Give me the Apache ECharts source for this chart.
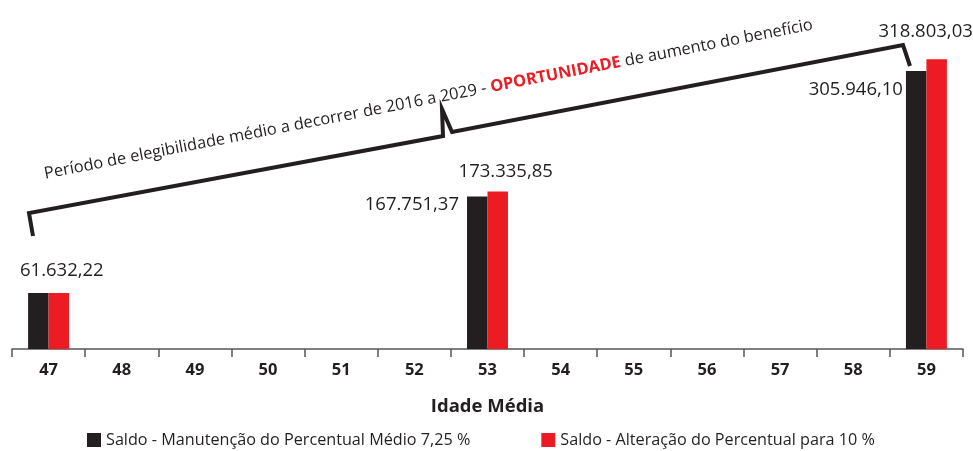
<!DOCTYPE html>
<html><head><meta charset="utf-8">
<script src="https://cdn.jsdelivr.net/npm/echarts@6/dist/echarts.min.js"></script>
<style>html,body{margin:0;padding:0;background:#fff}#c{width:973px;height:451px}</style>
</head><body><div id="c"></div>
<script>
const categories = ['47','48','49','50','51','52','53','54','55','56','57','58','59'];
const seriesNames = ['Saldo - Manutenção do Percentual Médio 7,25 %', 'Saldo - Alteração do Percentual para 10 %'];
const saldoManutencao = [61632.22, null, null, null, null, null, 167751.37, null, null, null, null, null, 305946.10];
const saldoAlteracao = [61632.22, null, null, null, null, null, 173335.85, null, null, null, null, null, 318803.03];
const xAxisName = 'Idade Média';

const BLACK = '#231f20', RED = '#ed1c24';
function fmt(v){
  const parts = v.toFixed(2).split('.');
  const int = parts[0].replace(/\B(?=(\d{3})+(?!\d))/g, '.');
  return int + ',' + parts[1];
}
const lblBase = {show:true, fontFamily:'Open Sans', fontSize:18.5, color:BLACK, formatter: p => fmt(p.value)};
// label placement per index (style only)
const blackLabels = {6:{position:[-8,8], align:'right', verticalAlign:'middle'}, 12:{position:[-3,19], align:'right', verticalAlign:'middle'}};
const redLabels = {0:{position:'top', offset:[3,-8]}, 6:{position:'top', offset:[8,-5]}, 12:{position:'top', offset:[-11,-13]}};
function build(arr, lbls){
  return arr.map((v,i)=> lbls[i] ? {value:v, label:Object.assign({}, lblBase, lbls[i])} : v);
}
const chart = echarts.init(document.getElementById('c'));
chart.setOption({
  animation:false,
  grid:{left:12, right:10, top:31, bottom:102},
  legend:{
    bottom:-2, left:82, itemWidth:14, itemHeight:14, itemGap:71, icon:'rect',
    textStyle:{fontFamily:'Open Sans', fontSize:16.2, color:BLACK}, data:seriesNames
  },
  xAxis:{
    type:'category', data:categories,
    name:xAxisName, nameLocation:'middle', nameGap:48,
    nameTextStyle:{fontFamily:'Open Sans', fontWeight:'bold', fontSize:18.5, color:BLACK},
    axisLine:{lineStyle:{color:'#555', width:1.5}},
    axisTick:{show:true, length:8, lineStyle:{color:'#555', width:1.5}},
    axisLabel:{fontFamily:'Open Sans', fontWeight:'bold', fontSize:16.5, color:BLACK, margin:13}
  },
  yAxis:{type:'value', min:0, max:350000, show:false, splitLine:{show:false}},
  series:[
    {name:seriesNames[0], type:'bar', data:build(saldoManutencao, blackLabels), itemStyle:{color:BLACK}, barGap:'0%', barCategoryGap:'44%'},
    {name:seriesNames[1], type:'bar', data:build(saldoAlteracao, redLabels), itemStyle:{color:RED}, barGap:'0%', barCategoryGap:'44%'}
  ],
  graphic:[
    {type:'polyline', shape:{points:[[33,236],[29,213],[443,136],[442,109],[452,132],[903,45],[910,66]]},
     style:{stroke:BLACK, lineWidth:4, fill:null, lineJoin:'miter'}},
    {type:'text', x:46, y:182, rotation:11*Math.PI/180,
     style:{text:'{n|Período de elegibilidade médio a decorrer de 2016 a 2029 - }{r|OPORTUNIDADE}{n| de aumento do benefício}',
       verticalAlign:'bottom', align:'left',
       rich:{n:{fontFamily:'Open Sans', fontSize:16.4, fill:BLACK, color:BLACK}, r:{fontFamily:'Open Sans', fontSize:16.4, fontWeight:'bold', fill:RED, color:RED}}}}
  ]
});
</script></body></html>
